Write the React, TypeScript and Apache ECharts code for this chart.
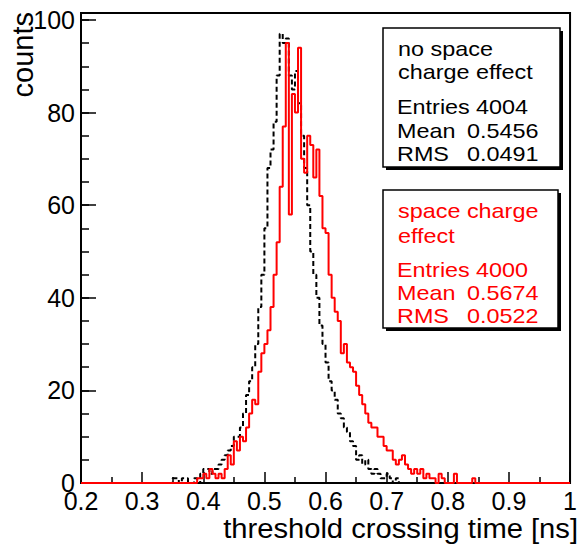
import React, { useEffect, useRef } from 'react';
import * as echarts from 'echarts';

// histogram binning
const BIN_WIDTH = 0.005;
const X_MIN = 0.2;
const X_MAX = 1.0;

// "no space charge effect" (black dashed), first bin starts at 0.350
const noSpaceStart = 0.35;
const noSpaceCounts = [
  1, 1, 0, 1, 1, 0, 0, 1, 0, 2,
  3, 3, 2, 3, 3, 4, 5, 6, 7, 8,
  10, 10, 12, 15, 19, 22, 25, 30, 38, 45,
  55, 68, 72, 78, 88, 97, 95, 96, 88, 85,
  89, 82, 75, 68, 60, 50, 45, 40, 34, 30,
  26, 22, 20, 18, 15, 14, 12, 11, 9, 8,
  5, 6, 4, 5, 3, 2, 3, 2, 1, 1,
  2, 1, 0, 1,
];

// "space charge effect" (red solid), first bin starts at 0.390
const spaceStart = 0.39;
const spaceCounts = [
  1, 1, 2, 1, 3, 2, 1, 2, 1, 3,
  6, 4, 9, 7, 10, 9, 12, 15, 18, 17,
  24, 28, 30, 33, 38, 45, 52, 64, 77, 95,
  58, 84, 80, 94, 70, 67, 75, 73, 66, 72,
  62, 55, 54, 45, 40, 37, 35, 28, 30, 26,
  25, 24, 21, 19, 17, 15, 13, 12, 12, 10,
  10, 8, 7, 7, 5, 4, 5, 6, 4, 3,
  2, 3, 2, 3, 1, 2, 1, 1, 0, 2,
  1, 0, 0, 0, 2, 0, 0, 0, 0, 0,
  1,
];

const box1Title = ['no space', 'charge effect'];
const box1Stats = [
  ['Entries', '4004'],
  ['Mean', '0.5456'],
  ['RMS', '0.0491'],
];
const box2Title = ['space charge', 'effect'];
const box2Stats = [
  ['Entries', '4000'],
  ['Mean', '0.5674'],
  ['RMS', '0.0522'],
];

const FONT = '"Liberation Sans", Arial, Helvetica, sans-serif';
const BOX_FONT = `20px ${FONT}`;
const BOX_SCALE_X = 1.17;

function buildSteps(start: number, counts: number[]): number[][] {
  const n = Math.round((X_MAX - X_MIN) / BIN_WIDTH);
  const offset = Math.round((start - X_MIN) / BIN_WIDTH);
  const pts: number[][] = [];
  for (let i = 0; i <= n; i++) {
    const k = (i < n ? i : n - 1) - offset;
    const v = k >= 0 && k < counts.length ? counts[k] : 0;
    pts.push([+(X_MIN + i * BIN_WIDTH).toFixed(4), v]);
  }
  return pts;
}

function boxText(text: string, x: number, y: number, color: string): any {
  return {
    type: 'text',
    x,
    y,
    scaleX: BOX_SCALE_X,
    z: 12,
    style: { text, fill: color, font: BOX_FONT, align: 'left', verticalAlign: 'middle' },
  };
}

function statBox(
  x: number,
  y: number,
  w: number,
  h: number,
  color: string,
  title: string[],
  titleY: number[],
  stats: string[][],
  statY: number[],
  numX: number[],
): any[] {
  const els: any[] = [
    { type: 'rect', shape: { x: x + 3, y: y + 3, width: w, height: h }, style: { fill: '#000' }, z: 10 },
    {
      type: 'rect',
      shape: { x, y, width: w, height: h },
      style: { fill: '#fff', stroke: '#000', lineWidth: 1.5 },
      z: 11,
    },
  ];
  title.forEach((t, i) => els.push(boxText(t, x + 15, titleY[i], color)));
  stats.forEach((s, i) => {
    els.push(boxText(s[0], x + 14, statY[i], color));
    els.push(boxText(s[1], numX[i], statY[i], color));
  });
  return els;
}

export default function App() {
  const ref = useRef<HTMLDivElement>(null);

  useEffect(() => {
    if (!ref.current) return;
    const chart = echarts.init(ref.current, undefined, { renderer: 'svg' });

    const blackData = buildSteps(noSpaceStart, noSpaceCounts);
    const redData = buildSteps(spaceStart, spaceCounts);

    const option: any = {
      animation: false,
      backgroundColor: '#fff',
      grid: {
        left: 81,
        right: 6,
        top: 13,
        bottom: 63,
        show: true,
        borderColor: '#000',
        borderWidth: 2,
        backgroundColor: 'transparent',
        containLabel: false,
      },
      xAxis: {
        type: 'value',
        min: 0.2,
        max: 1.0,
        interval: 0.1,
        axisLine: { show: true, lineStyle: { color: '#000', width: 2 } },
        axisTick: { show: true, inside: true, length: 11, lineStyle: { color: '#000', width: 1.5 } },
        minorTick: { show: true, splitNumber: 2, length: 6, lineStyle: { color: '#000', width: 1.5 } },
        axisLabel: {
          color: '#000',
          fontSize: 25,
          fontFamily: FONT,
          margin: 5,
          formatter: (v: number) => String(Math.round(v * 10) / 10),
        },
        splitLine: { show: false },
        minorSplitLine: { show: false },
      },
      yAxis: [
        {
          type: 'value',
          min: 0,
          max: 101.5,
          interval: 20,
          axisLine: { show: true, lineStyle: { color: '#000', width: 2 } },
          axisTick: { show: true, inside: true, length: 15, lineStyle: { color: '#000', width: 1.5 } },
          axisLabel: {
            color: '#000',
            fontSize: 25,
            fontFamily: FONT,
            margin: 6,
            formatter: (v: number) => (v > 100 ? '' : String(v)),
          },
          splitLine: { show: false },
        },
        {
          type: 'value',
          position: 'left',
          min: 0,
          max: 101.5,
          interval: 5,
          axisLine: { show: false },
          axisTick: { show: true, inside: true, length: 8, lineStyle: { color: '#000', width: 1.5 } },
          axisLabel: { show: false },
          splitLine: { show: false },
        },
      ],
      series: [
        {
          name: 'no space charge effect',
          type: 'line',
          step: 'end',
          data: blackData,
          yAxisIndex: 0,
          showSymbol: false,
          symbol: 'none',
          lineStyle: { color: '#000', width: 2, type: [5, 3] },
          z: 2,
        },
        {
          name: 'space charge effect',
          type: 'line',
          step: 'end',
          data: redData,
          yAxisIndex: 0,
          showSymbol: false,
          symbol: 'none',
          lineStyle: { color: '#ff0000', width: 2 },
          z: 3,
        },
      ],
      graphic: [
        {
          type: 'text',
          x: 578,
          y: 529,
          scaleX: 1.08,
          style: {
            text: 'threshold crossing time [ns]',
            fill: '#000',
            font: `27px ${FONT}`,
            align: 'right',
            verticalAlign: 'middle',
          },
        },
        {
          type: 'text',
          x: 23,
          y: 12,
          rotation: Math.PI / 2,
          style: {
            text: 'counts',
            fill: '#000',
            font: `29px ${FONT}`,
            align: 'right',
            verticalAlign: 'middle',
          },
        },
        ...statBox(383, 28, 177, 139, '#000', box1Title, [49, 72], box1Stats, [107, 131, 154], [476, 467, 467]),
        ...statBox(383, 190, 175, 138, '#ff0000', box2Title, [211, 236], box2Stats, [270, 293, 316], [476, 467, 467]),
      ],
    };

    chart.setOption(option);
    return () => chart.dispose();
  }, []);

  return (
    <div
      ref={ref}
      style={{ position: 'fixed', left: 0, top: 0, width: 580, height: 546, background: '#fff' }}
    />
  );
}
